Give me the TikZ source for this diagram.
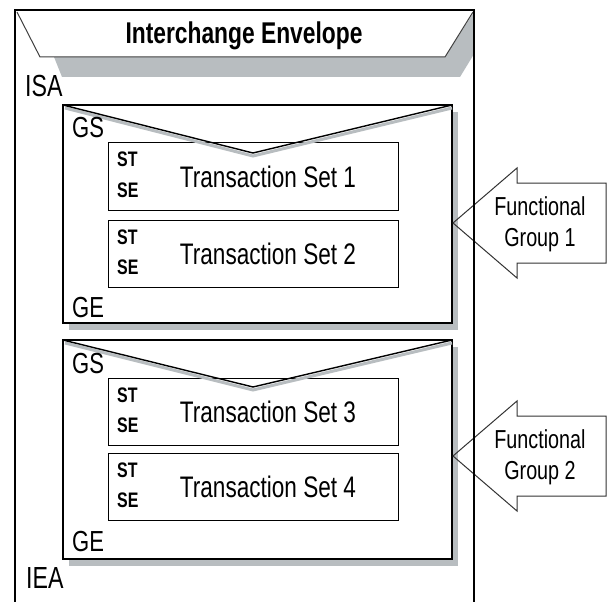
\documentclass[tikz,border=0pt]{standalone}
\usepackage{fontspec}
\setmainfont{Liberation Sans}
\newfontfamily\narrowsans[FakeStretch=0.76]{Liberation Sans}
\definecolor{shadowgray}{RGB}{184,189,192}
\begin{document}
\begin{tikzpicture}[x=1pt,y=-1pt,
  lbl/.style={inner sep=0pt, anchor=base west, font=\narrowsans\fontsize{29}{29}\selectfont},
  seglbl/.style={inner sep=0pt, anchor=base west, font=\narrowsans\bfseries\fontsize{21}{21}\selectfont},
  setlbl/.style={inner sep=0pt, anchor=base, font=\narrowsans\fontsize{29.7}{30}\selectfont},
  fglbl/.style={inner sep=0pt, anchor=base, font=\narrowsans\fontsize{26}{26}\selectfont},
  grpbox/.style={draw=black, line width=1.3pt, fill=white},
  grpshadow/.style={fill=shadowgray},
  setbox/.style={draw=black, line width=1pt, fill=white},
  vline/.style={draw=black, line width=1.4pt, line join=miter},
  vshadow/.style={draw=shadowgray, line width=3pt},
  fgarrow/.style={draw=black!80, line width=1pt, line join=miter},
  frame/.style={draw=black, line width=2.5pt, line join=miter}]

% page area
\fill[white] (0,0) rectangle (614,602);
\useasboundingbox (0,0) rectangle (614,602);
\clip (0,0) rectangle (614,602);

% envelope flap with its shadow
\fill[shadowgray] (54,57) -- (62,77) -- (460,77) -- (474,54) -- (474,12) -- (445,57) -- cycle;
\fill[white] (17,12) -- (473,12) -- (445,57) -- (40,57) -- cycle;
\draw[black!75, line width=1pt] (17,12) -- (40,57) -- (445,57) -- (473,12);

% functional group boxes
\foreach \top/\bot in {105/323, 340/559}{
  \fill[grpshadow] (69,\top+7) rectangle (458,\bot+7);
  \draw[grpbox] (63,\top) rectangle (452,\bot);
}

% transaction set boxes
\foreach \top in {143,220,378,453}{
  \draw[setbox] (108,\top) rectangle (398,\top+67);
}

% group flaps, drawn over the first transaction set
\foreach \top/\vy in {105/153, 340/387}{
  \draw[vshadow] (65,\top+3) -- (253,\vy+3) -- (452,\top+3);
  \draw[vline] (63,\top) -- (253,\vy) -- (452,\top);
}

% functional group arrows
\foreach \c in {223,456}{
  \draw[fgarrow] (453,\c) -- (517,\c-55) -- (517,\c-40) -- (606,\c-40)
    -- (606,\c+40) -- (517,\c+40) -- (517,\c+55) -- cycle;
}

% interchange envelope frame
\draw[frame] (15,620) -- (15,10) -- (474,10) -- (474,620);

% labels
\node[inner sep=0pt, anchor=base, font=\narrowsans\bfseries\fontsize{30}{30}\selectfont] (title) at (244,44) {Interchange Envelope};
\node[lbl, font=\narrowsans\fontsize{30.5}{30}\selectfont] (isa) at (25,97) {ISA};
\node[lbl, font=\narrowsans\fontsize{30.5}{30}\selectfont] (iea) at (26,588) {IEA};

\node[lbl] (gs1) at (72,138) {GS};
\node[lbl] (ge1) at (72,317) {GE};
\node[lbl] (gs2) at (72,373) {GS};
\node[lbl] (ge2) at (72,551) {GE};

\foreach \top/\n in {143/1,220/2,378/3,453/4}{
  \node[seglbl] (st\n) at (117,\top+24) {ST};
  \node[seglbl] (se\n) at (117,\top+54) {SE};
  \node[setlbl] (ts\n) at (268,\top+44) {Transaction Set \n};
}

\node[fglbl] (fg1a) at (540,215) {Functional};
\node[fglbl] (fg1b) at (540,246) {Group 1};
\node[fglbl] (fg2a) at (540,448) {Functional};
\node[fglbl] (fg2b) at (540,479) {Group 2};
\end{tikzpicture}
\end{document}
